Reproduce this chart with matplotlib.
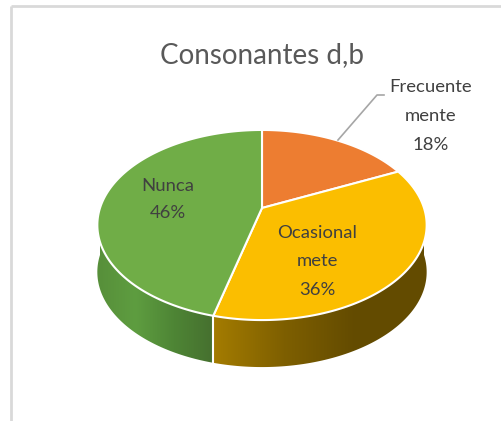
import numpy as np
import matplotlib
matplotlib.use("Agg")
import matplotlib.pyplot as plt
from matplotlib.patches import Polygon
from matplotlib.colors import LinearSegmentedColormap

# ---- data ----
title = "Consonantes d,b"
categories = ["Frecuente\nmente", "Ocasional\nmete", "Nunca"]
values = [18, 36, 46]
top_colors = ["#ED7D31", "#FBBE00", "#70AD47"]
side_grad = {
    1: ["#A47C00", "#7E5F00", "#634B00", "#644C00"],
    2: ["#578F3A", "#5E9D40", "#4E8535", "#46702F"],
}

# ---- geometry (pixel space) ----
W, H = 502, 421
cx, cy = 262, 208
Rx, c, p = 162, 92, 0.179
depth = 47

def proj(theta_deg, dz=0.0):
    t = np.radians(theta_deg)
    d = 1 + p * np.sin(t)
    return cx + Rx * np.cos(t) / d, cy - c * np.sin(t) / d + dz

fig = plt.figure(figsize=(W / 100, H / 100), dpi=100)
ax = fig.add_axes([0, 0, 1, 1])
ax.set_xlim(0, W)
ax.set_ylim(H, 0)
ax.axis("off")

# frame
ax.plot([11, 11], [H, 6], color="#D9D9D9", lw=2, solid_capstyle="butt")
ax.plot([11, W], [6, 6], color="#D9D9D9", lw=2, solid_capstyle="butt")

# angles: start at 90 deg, clockwise
total = sum(values)
bounds = [90.0]
for v in values:
    bounds.append(bounds[-1] - 360.0 * v / total)
spans = [(bounds[i + 1], bounds[i]) for i in range(len(values))]

# ---- side faces ----
for i, (lo, hi) in enumerate(spans):
    f_lo = max(lo, -180.0)
    f_hi = min(hi, 0.0)
    if f_hi <= f_lo:
        continue
    th = np.linspace(f_lo, f_hi, 120)
    tx, ty = proj(th)
    bx, by = proj(th[::-1], depth)
    verts = np.column_stack([np.concatenate([tx, bx]), np.concatenate([ty, by])])
    poly = Polygon(verts, closed=True, facecolor="none", edgecolor="none")
    ax.add_patch(poly)
    cmap = LinearSegmentedColormap.from_list("g%d" % i, side_grad[i])
    x0, x1 = verts[:, 0].min(), verts[:, 0].max()
    grad = np.linspace(0, 1, 256).reshape(1, -1)
    im = ax.imshow(grad, cmap=cmap, extent=[x0, x1, H, 0], aspect="auto", zorder=1)
    im.set_clip_path(poly)

# vertical seam between visible side faces
for b in bounds:
    bb = ((b + 180) % 360) - 180
    if -180 < bb < 0:
        x0, y0 = proj(bb)
        x1, y1 = proj(bb, depth)
        ax.plot([x0, x1], [y0, y1], color="white", lw=1.5, zorder=3)

# ---- top faces ----
for i, (lo, hi) in enumerate(spans):
    th = np.linspace(hi, lo, 200)
    rx, ry = proj(th)
    verts = np.column_stack([np.concatenate([[cx], rx]), np.concatenate([[cy], ry])])
    ax.add_patch(Polygon(verts, closed=True, facecolor=top_colors[i],
                         edgecolor="white", lw=1.5, joinstyle="round", zorder=4))

# ---- labels ----
lab_font = ["Lato", "DejaVu Sans"]
tc = "#404040"
ax.text(262, 63, title, ha="center", va="baseline", fontsize=20, color="#595959",
        family=lab_font)

def label(x, y0, lines, step):
    for k, s in enumerate(lines):
        ax.text(x, y0 + k * step, s, ha="center", va="baseline", fontsize=13.3,
                color=tc, family=lab_font, zorder=6)

label(431, 92, categories[0].split("\n") + ["%d%%" % values[0]], 29)
label(317, 238, categories[1].split("\n") + ["%d%%" % values[1]], 28.5)
label(167.5, 191, categories[2].split("\n") + ["%d%%" % values[2]], 27.5)

# leader line
ax.plot([338, 377, 384], [140, 95, 95], color="#A6A6A6", lw=1.2, zorder=5)

fig.savefig("out.png", dpi=100)
